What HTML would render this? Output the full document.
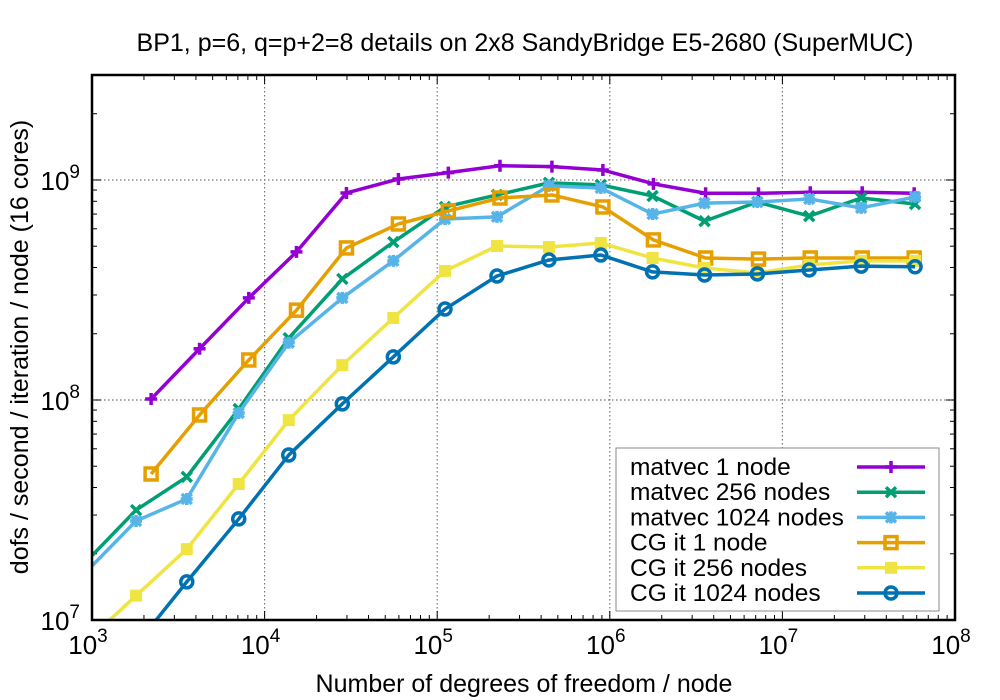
<!DOCTYPE html>
<html><head><meta charset="utf-8"><style>
body{margin:0;background:#fff;}
svg{display:block;font-family:"Liberation Sans",Arial,sans-serif;}
</style></head><body>
<svg id="chart" width="1000" height="700" viewBox="0 0 1000 700"></svg>
<script>
const xA=[2200,4200,8100,15300,29800,59600,116000,231000,462000,912000,1790000,3590000,7270000,14500000,29000000,58000000];
const xB=[900,1800,3540,7080,13800,28200,55700,111000,222000,444000,887000,1770000,3540000,7160000,14300000,28600000,58700000];
const matvec1=[1.01e8,1.71e8,2.91e8,4.71e8,8.73e8,1.01e9,1.08e9,1.16e9,1.15e9,1.11e9,9.6e8,8.7e8,8.7e8,8.8e8,8.8e8,8.7e8];
const matvec256=[1.8e7,3.16e7,4.47e7,9.1e7,1.91e8,3.55e8,5.22e8,7.54e8,8.55e8,9.7e8,9.5e8,8.46e8,6.5e8,7.94e8,6.85e8,8.28e8,7.78e8];
const matvec1024=[1.62e7,2.82e7,3.55e7,8.73e7,1.82e8,2.91e8,4.29e8,6.65e8,6.8e8,9.4e8,9.2e8,7.0e8,7.85e8,7.94e8,8.2e8,7.47e8,8.37e8];
const cg1=[4.61e7,8.55e7,1.52e8,2.56e8,4.91e8,6.31e8,7.23e8,8.28e8,8.55e8,7.54e8,5.34e8,4.42e8,4.37e8,4.42e8,4.42e8,4.42e8];
const cg256=[7.8e6,1.29e7,2.1e7,4.15e7,8.1e7,1.44e8,2.36e8,3.86e8,5.01e8,4.96e8,5.17e8,4.42e8,3.98e8,3.78e8,4.11e8,4.29e8,4.29e8];
const cg1024=[null,7.7e6,1.49e7,2.88e7,5.62e7,9.6e7,1.57e8,2.59e8,3.66e8,4.33e8,4.56e8,3.82e8,3.7e8,3.74e8,3.9e8,4.06e8,4.03e8];
const xTicks=[3,4,5,6,7,8];
const yTicks=[7,8,9];
const seriesNames=["matvec 1 node","matvec 256 nodes","matvec 1024 nodes","CG it 1 node","CG it 256 nodes","CG it 1024 nodes"];

const L=92,R=955,T=75,B=620;
const X=v=>L+(Math.log10(v)-3)/5*(R-L);
const Y=v=>B-(Math.log10(v)-7)/(Math.log10(3e9)-7)*(B-T);
const svg=document.getElementById('chart');
const NS='http://www.w3.org/2000/svg';
function el(tag,attrs,parent){const e=document.createElementNS(NS,tag);for(const k in attrs)e.setAttribute(k,attrs[k]);(parent||svg).appendChild(e);return e;}

const title=el('text',{x:525,y:51,'text-anchor':'middle','font-size':25});
title.textContent='BP1, p=6, q=p+2=8 details on 2x8 SandyBridge E5-2680 (SuperMUC)';



const defs=el('defs',{});
const cp=el('clipPath',{id:'clip'},defs);el('rect',{x:L,y:T,width:R-L,height:B-T},cp);

const grid=el('g',{});


for(const d of xTicks){
  const x=X(Math.pow(10,d));
  if(d>3&&d<8){el('line',{x1:x,y1:T,x2:x,y2:B,stroke:'#777','stroke-dasharray':'1.5,2.5','stroke-width':1.2},grid);}
  el('line',{x1:x,y1:B,x2:x,y2:B-9,stroke:'#000','stroke-width':1},grid);
  el('line',{x1:x,y1:T,x2:x,y2:T+9,stroke:'#000','stroke-width':1},grid);
  for(let m=2;m<10&&d<8;m++){const xm=X(m*Math.pow(10,d));
    el('line',{x1:xm,y1:B,x2:xm,y2:B-5,stroke:'#000'},grid);el('line',{x1:xm,y1:T,x2:xm,y2:T+5,stroke:'#000'},grid);}
  const t=el('text',{x:x-4,y:654,'text-anchor':'middle','font-size':26},grid);
  t.textContent='10';const s=el('tspan',{dy:-12,'font-size':19},t);s.textContent=d;
  
  
}
for(const d of yTicks){
  const y=Y(Math.pow(10,d));
  if(d>7){el('line',{x1:L,y1:y,x2:R,y2:y,stroke:'#777','stroke-dasharray':'1.5,2.5','stroke-width':1.2},grid);}
  el('line',{x1:L,y1:y,x2:L+9,y2:y,stroke:'#000'},grid);el('line',{x1:R,y1:y,x2:R-9,y2:y,stroke:'#000'},grid);
  for(let m=2;m<10;m++){const v=m*Math.pow(10,d);if(v>3e9)break;const ym=Y(v);
    el('line',{x1:L,y1:ym,x2:L+5,y2:ym,stroke:'#000'},grid);el('line',{x1:R,y1:ym,x2:R-5,y2:ym,stroke:'#000'},grid);}
  const t=el('text',{x:80,y:y+10,'text-anchor':'end','font-size':26},grid);
  t.textContent='10';const s=el('tspan',{dy:-12,'font-size':19},t);s.textContent=d;
  
  
}

const colors=['#9400d3','#009e73','#56b4e9','#e69f00','#f0e442','#0072b2'];
const xs=[xA,xB,xB,xA,xB,xB];
const ys=[matvec1,matvec256,matvec1024,cg1,cg256,cg1024];
function marker(k,x,y,g){
  const c=colors[k];
  if(k===0){el('path',{d:`M${x-6},${y}h12M${x},${y-6}v12`,stroke:c,'stroke-width':3.5},g);}
  else if(k===1){el('path',{d:`M${x-5},${y-5}l10,10M${x-5},${y+5}l10,-10`,stroke:c,'stroke-width':3.5},g);}
  else if(k===2){el('path',{d:`M${x-5},${y-5}l10,10M${x-5},${y+5}l10,-10M${x-6},${y}h12M${x},${y-6}v12`,stroke:c,'stroke-width':3.5},g);}
  else if(k===3){el('rect',{x:x-6,y:y-6,width:12,height:12,fill:'none',stroke:c,'stroke-width':3.5},g);}
  else if(k===4){el('rect',{x:x-6,y:y-6,width:12,height:12,fill:c},g);}
  else {el('circle',{cx:x,cy:y,r:6,fill:'none',stroke:c,'stroke-width':3.5},g);}
}
const plot=el('g',{'clip-path':'url(#clip)'});


for(let k=0;k<6;k++){
  const g=el('g',{},plot);
  
  
  const pts=[];
  xs[k].forEach((xv,i)=>{if(ys[k][i]!=null)pts.push([X(xv),Y(ys[k][i])]);});
  el('polyline',{points:pts.map(p=>p.join(',')).join(' '),fill:'none',stroke:colors[k],'stroke-width':3.5,'stroke-linejoin':'round'},g);
  pts.forEach(p=>marker(k,p[0],p[1],g));
}
el('rect',{x:L,y:T,width:R-L,height:B-T,fill:'none',stroke:'#000','stroke-width':2.5});

const lg=el('g',{});


el('rect',{x:616,y:448,width:323,height:163,fill:'#fff',stroke:'#888','stroke-width':1},lg);
for(let k=0;k<6;k++){
  const y=467+k*25.2;
  const e=el('g',{},lg);
  
  
  const t=el('text',{x:630,y:y+8,'font-size':24.5},e);t.textContent=seriesNames[k];
  el('line',{x1:857,y1:y,x2:925,y2:y,stroke:colors[k],'stroke-width':3.5},e);
  marker(k,891,y,e);
}
const xl=el('text',{x:524,y:692,'text-anchor':'middle','font-size':25});xl.textContent='Number of degrees of freedom / node';


const yl=el('text',{x:0,y:0,'text-anchor':'middle','font-size':25,transform:'translate(28,347) rotate(-90)'});yl.textContent='dofs / second / iteration / node (16 cores)';


</script>
</body></html>
